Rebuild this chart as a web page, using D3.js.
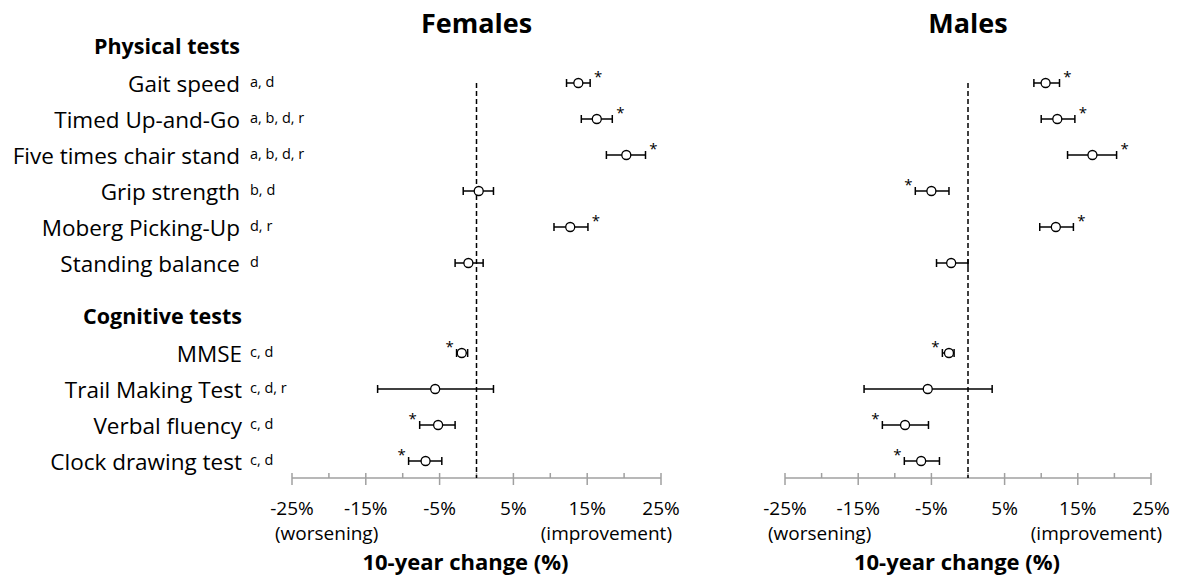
<!DOCTYPE html>
<meta charset="utf-8">
<style>
body { margin: 0; background: #fff; }
text { font-family: "Open Sans", Lato, sans-serif; fill: #000; }
.lab { font-size: 22.5px; }
.note { font-size: 14.5px; }
.head { font-size: 21.5px; font-weight: bold; }
.title { font-size: 27px; font-weight: bold; }
.tick { font-size: 19px; }
.xlab { font-size: 22px; font-weight: bold; }
.star { font-size: 15px; }
</style>
<body>
<script src="https://cdn.jsdelivr.net/npm/d3@7"></script>
<script>
// test names and footnote letters
var physTests = ["Gait speed", "Timed Up-and-Go", "Five times chair stand", "Grip strength", "Moberg Picking-Up", "Standing balance"];
var physNotes = ["a, d", "a, b, d, r", "a, b, d, r", "b, d", "d, r", "d"];
var cogTests = ["MMSE", "Trail Making Test", "Verbal fluency", "Clock drawing test"];
var cogNotes = ["c, d", "c, d, r", "c, d", "c, d"];

// 10-year change (%) : estimate, lower, upper, significant (physical then cognitive)
var femEst = [13.8, 16.3, 20.3, 0.3, 12.7, -1.1, -2.0, -5.6, -5.2, -6.9];
var femLo  = [12.2, 14.2, 17.6, -1.8, 10.5, -2.9, -2.7, -13.4, -7.7, -9.2];
var femHi  = [15.4, 18.4, 22.9, 2.3, 15.1, 0.9, -1.2, 2.3, -2.9, -4.7];
var femSig = [1, 1, 1, 0, 1, 0, 1, 0, 1, 1];

var maleEst = [10.6, 12.2, 17.0, -5.0, 12.0, -2.3, -2.6, -5.5, -8.6, -6.4];
var maleLo  = [9.0, 10.0, 13.6, -7.2, 9.8, -4.3, -3.5, -14.2, -11.7, -8.7];
var maleHi  = [12.5, 14.6, 20.3, -2.6, 14.4, 0.0, -1.9, 3.3, -5.4, -3.9];
var maleSig = [1, 1, 1, 1, 1, 0, 1, 0, 1, 1];

var ticks = [-25, -15, -5, 5, 15, 25];
var minorTicks = [-20, -10, 0, 10, 20];

var width = 1180, height = 585;
var svg = d3.select("body").append("svg")
    .attr("width", width)
    .attr("height", height);

// slot index: headings at 0 and 7.5, physical rows 1..6, cognitive rows 8.5..11.5
var y = d3.scaleLinear().domain([0, 11.5]).range([47, 461]);
var axisY = 478;

var rows = [];
physTests.forEach(function(t, i) { rows.push({name: t, note: physNotes[i], slot: i + 1}); });
cogTests.forEach(function(t, i) { rows.push({name: t, note: cogNotes[i], slot: 8.5 + i}); });

// left labels
var labelX = 240;
svg.append("text").attr("class", "head").attr("x", labelX).attr("y", y(0) + 7)
    .attr("text-anchor", "end").text("Physical tests");
svg.append("text").attr("class", "head").attr("x", labelX + 2).attr("y", y(7.5) + 7)
    .attr("text-anchor", "end").text("Cognitive tests");

var lab = svg.selectAll(".lab").data(rows).enter();
lab.append("text").attr("class", "lab")
    .attr("x", function(d) { return d.slot > 7 ? labelX + 2 : labelX; })
    .attr("y", function(d) { return y(d.slot) + 8.5; })
    .attr("text-anchor", "end").text(function(d) { return d.name; });
lab.append("text").attr("class", "note")
    .attr("x", labelX + 10).attr("y", function(d) { return y(d.slot) + 3.5; })
    .text(function(d) { return d.note; });

function panel(title, range, est, lo, hi, sig) {
  var x = d3.scaleLinear().domain([-25, 25]).range(range);
  var g = svg.append("g");

  g.append("text").attr("class", "title")
      .attr("x", x(0)).attr("y", 33).attr("text-anchor", "middle").text(title);

  // axis
  g.append("line").attr("x1", x(-25)).attr("x2", x(25))
      .attr("y1", axisY).attr("y2", axisY)
      .attr("stroke", "#a0a0a0").attr("stroke-width", 1.5);
  g.selectAll(".maj").data(ticks).enter().append("line")
      .attr("x1", function(d) { return x(d); }).attr("x2", function(d) { return x(d); })
      .attr("y1", axisY - 5).attr("y2", axisY + 7)
      .attr("stroke", "#a0a0a0").attr("stroke-width", 1.5);
  g.selectAll(".mnr").data(minorTicks).enter().append("line")
      .attr("x1", function(d) { return x(d); }).attr("x2", function(d) { return x(d); })
      .attr("y1", axisY - 5).attr("y2", axisY)
      .attr("stroke", "#a0a0a0").attr("stroke-width", 1.5);
  g.selectAll(".tick").data(ticks).enter().append("text").attr("class", "tick")
      .attr("x", function(d) { return x(d); }).attr("y", 515)
      .attr("text-anchor", "middle").text(function(d) { return d + "%"; });
  g.append("text").attr("class", "tick").attr("x", x(-25) - 17).attr("y", 540)
      .text("(worsening)");
  g.append("text").attr("class", "tick").attr("x", x(25) + 11).attr("y", 540)
      .attr("text-anchor", "end").text("(improvement)");
  g.append("text").attr("class", "xlab")
      .attr("x", (x(-25) + x(25)) / 2 - 11).attr("y", 570)
      .attr("text-anchor", "middle").text("10-year change (%)");

  // zero line
  g.append("line").attr("x1", x(0)).attr("x2", x(0))
      .attr("y1", y(1)).attr("y2", axisY)
      .attr("stroke", "#000").attr("stroke-width", 1.5)
      .attr("stroke-dasharray", "5,3");

  var pts = g.selectAll(".pt").data(rows).enter().append("g");
  pts.append("line")
      .attr("x1", function(d, i) { return x(lo[i]); }).attr("x2", function(d, i) { return x(hi[i]); })
      .attr("y1", function(d) { return y(d.slot); }).attr("y2", function(d) { return y(d.slot); })
      .attr("stroke", "#000").attr("stroke-width", 1.5);
  [lo, hi].forEach(function(arr) {
    pts.append("line")
        .attr("x1", function(d, i) { return x(arr[i]); }).attr("x2", function(d, i) { return x(arr[i]); })
        .attr("y1", function(d) { return y(d.slot) - 4; }).attr("y2", function(d) { return y(d.slot) + 4; })
        .attr("stroke", "#000").attr("stroke-width", 1.5);
  });
  pts.append("circle")
      .attr("cx", function(d, i) { return x(est[i]); })
      .attr("cy", function(d) { return y(d.slot); })
      .attr("r", 4.5).attr("fill", "#fff").attr("stroke", "#000").attr("stroke-width", 1.3);
  pts.filter(function(d, i) { return sig[i]; }).append("text").attr("class", "star")
      .attr("x", function(d) { var i = rows.indexOf(d); return est[i] > 0 ? x(hi[i]) + 8 : x(lo[i]) - 7; })
      .attr("y", function(d) { return y(d.slot) - 1; })
      .attr("text-anchor", "middle").text("*");
}

panel("Females", [292, 661], femEst, femLo, femHi, femSig);
panel("Males", [785, 1151], maleEst, maleLo, maleHi, maleSig);
</script>
</body>
